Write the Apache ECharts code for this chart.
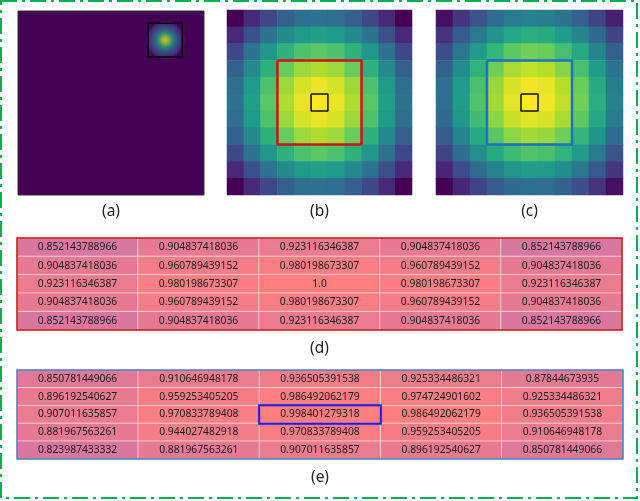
<!DOCTYPE html>
<html>
<head>
<meta charset="utf-8">
<script src="https://cdn.jsdelivr.net/npm/echarts@6/dist/echarts.min.js"></script>
<style>
html,body{margin:0;padding:0;background:#fff;}
#chart{width:640px;height:501px;}
</style>
</head>
<body>
<div id="chart"></div>
<script>
// ---------- data ----------
// (a) full image: 60x60 units, one gaussian blob and the 11x11 crop box
const imageSizeA = 60;
const blobCenterA = [47.5, 9.5];
const cropBoxA = [42, 4, 53, 15];

// (b) 11x11 patch (gaussian, centered)
const patchB = [
[0.368,0.440,0.507,0.560,0.595,0.607,0.595,0.560,0.507,0.440,0.368],
[0.440,0.527,0.607,0.670,0.712,0.726,0.712,0.670,0.607,0.527,0.440],
[0.507,0.607,0.698,0.771,0.819,0.835,0.819,0.771,0.698,0.607,0.507],
[0.560,0.670,0.771,0.852,0.905,0.923,0.905,0.852,0.771,0.670,0.560],
[0.595,0.712,0.819,0.905,0.961,0.980,0.961,0.905,0.819,0.712,0.595],
[0.607,0.726,0.835,0.923,0.980,1.000,0.980,0.923,0.835,0.726,0.607],
[0.595,0.712,0.819,0.905,0.961,0.980,0.961,0.905,0.819,0.712,0.595],
[0.560,0.670,0.771,0.852,0.905,0.923,0.905,0.852,0.771,0.670,0.560],
[0.507,0.607,0.698,0.771,0.819,0.835,0.819,0.771,0.698,0.607,0.507],
[0.440,0.527,0.607,0.670,0.712,0.726,0.712,0.670,0.607,0.527,0.440],
[0.368,0.440,0.507,0.560,0.595,0.607,0.595,0.560,0.507,0.440,0.368]
];
// (c) 11x11 patch (gaussian, slightly shifted)
const patchC = [
[0.367,0.443,0.514,0.573,0.613,0.630,0.623,0.591,0.539,0.473,0.398],
[0.436,0.526,0.610,0.680,0.728,0.749,0.740,0.702,0.640,0.561,0.473],
[0.498,0.601,0.697,0.776,0.831,0.854,0.844,0.801,0.731,0.640,0.539],
[0.546,0.659,0.764,0.851,0.911,0.937,0.925,0.878,0.801,0.702,0.591],
[0.575,0.694,0.804,0.896,0.959,0.986,0.975,0.925,0.844,0.740,0.623],
[0.582,0.702,0.814,0.907,0.971,0.998,0.986,0.937,0.854,0.749,0.630],
[0.566,0.683,0.792,0.882,0.944,0.971,0.959,0.911,0.831,0.728,0.613],
[0.529,0.638,0.740,0.824,0.882,0.907,0.896,0.851,0.776,0.680,0.573],
[0.475,0.573,0.664,0.740,0.792,0.814,0.804,0.764,0.697,0.610,0.514],
[0.409,0.494,0.573,0.638,0.683,0.702,0.694,0.659,0.601,0.526,0.443],
[0.339,0.409,0.475,0.529,0.566,0.582,0.575,0.546,0.498,0.436,0.367]
];
const patchCategories = ['0','1','2','3','4','5','6','7','8','9','10'];
const regionBoxB = [3, 3, 8, 8];
const centerBoxB = [5, 5, 6, 6];
const regionBoxC = [3, 3, 8, 8];
const centerBoxC = [5, 5, 6, 6];

// (d) table
const tableD = [
['0.852143788966','0.904837418036','0.923116346387','0.904837418036','0.852143788966'],
['0.904837418036','0.960789439152','0.980198673307','0.960789439152','0.904837418036'],
['0.923116346387','0.980198673307','1.0','0.980198673307','0.923116346387'],
['0.904837418036','0.960789439152','0.980198673307','0.960789439152','0.904837418036'],
['0.852143788966','0.904837418036','0.923116346387','0.904837418036','0.852143788966']
];
// (e) table
const tableE = [
['0.850781449066','0.910646948178','0.936505391538','0.925334486321','0.87844673935'],
['0.896192540627','0.959253405205','0.986492062179','0.974724901602','0.925334486321'],
['0.907011635857','0.970833789408','0.998401279318','0.986492062179','0.936505391538'],
['0.881967563261','0.944027482918','0.970833789408','0.959253405205','0.910646948178'],
['0.823987433332','0.881967563261','0.907011635857','0.896192540627','0.850781449066']
];
const tableCategories = ['0','1','2','3','4'];
const highlightCellE = [2, 2];
const panelLabels = ['(a)','(b)','(c)','(d)','(e)'];

// ---------- styles ----------
const viridis = ['#440154','#482878','#3e4989','#31688e','#26828e','#1f9e89','#35b779','#6ece58','#b5de2b','#fde725'];
const tableColors = ['#d8789c','#ff7f7f'];
const labelFont = 'Noto Sans';

function rectPath(b){ return [[b[0],b[1]],[b[2],b[1]],[b[2],b[3]],[b[0],b[3]],[b[0],b[1]]]; }
function matrixData(m){ const out=[]; m.forEach((row,i)=>row.forEach((v,j)=>out.push([j,i,v]))); return out; }
function tableData(t, hl){
  const out=[]; let last=null;
  t.forEach((row,i)=>row.forEach((s,j)=>{
    const item={value:[j,i,parseFloat(s)]};
    if(hl && hl[0]===i && hl[1]===j){ item.itemStyle={borderColor:'#1a1aff',borderWidth:2}; last=item; }
    else out.push(item);
  }));
  if(last) out.push(last);
  return out;
}
function mmin(m){ return Math.min(...m.flat()); }
function mmax(m){ return Math.max(...m.flat()); }
function tmin(t){ return Math.min(...t.flat().map(parseFloat)); }
function tmax(t){ return Math.max(...t.flat().map(parseFloat)); }

const nameStyle = {fontSize:15.5, color:'#222', fontFamily:labelFont};
function namedCatX(grid, cats, name, gap){
  return {type:'category', gridIndex:grid, data:cats, name:name, nameLocation:'middle', nameGap:gap,
    nameTextStyle:nameStyle, axisLine:{show:false}, axisTick:{show:false}, axisLabel:{show:false}, splitLine:{show:false}};
}
function hiddenCatY(grid, cats){ return {type:'category', gridIndex:grid, data:cats, inverse:true, show:false}; }
function hiddenVal(grid, max, inverse){ return {type:'value', gridIndex:grid, min:0, max:max, inverse:!!inverse, show:false}; }

const chart = echarts.init(document.getElementById('chart'), null, {renderer:'canvas'});
const option = {
  animation:false,
  backgroundColor:'#fff',
  grid:[
    {left:18, top:11, width:186, height:184, show:true, backgroundColor:'#440154', borderColor:'#333', borderWidth:1},
    {left:227, top:10, width:185, height:185},
    {left:436, top:10, width:187, height:185},
    {left:17, top:238, width:605, height:92, show:true, z:5, borderColor:'#c8141e', borderWidth:1.5, backgroundColor:'transparent'},
    {left:17, top:370, width:606, height:89, show:true, z:5, borderColor:'#4a80c0', borderWidth:1.5, backgroundColor:'transparent'}
  ],
  xAxis:[
    {type:'value', gridIndex:0, min:0, max:imageSizeA, name:panelLabels[0], nameLocation:'middle', nameGap:9,
      nameTextStyle:nameStyle, axisLine:{show:false}, axisTick:{show:false}, axisLabel:{show:false}, splitLine:{show:false}},
    namedCatX(1, patchCategories, panelLabels[1], 9),
    hiddenVal(1, patchCategories.length),
    namedCatX(2, patchCategories, panelLabels[2], 9),
    hiddenVal(2, patchCategories.length),
    namedCatX(3, tableCategories, panelLabels[3], 11),
    namedCatX(4, tableCategories, panelLabels[4], 11)
  ],
  yAxis:[
    hiddenVal(0, imageSizeA, true),
    hiddenCatY(1, patchCategories),
    hiddenVal(1, patchCategories.length, true),
    hiddenCatY(2, patchCategories),
    hiddenVal(2, patchCategories.length, true),
    hiddenCatY(3, tableCategories),
    hiddenCatY(4, tableCategories)
  ],
  visualMap:[
    {show:false, type:'continuous', seriesIndex:2, dimension:2, min:mmin(patchB), max:mmax(patchB), inRange:{color:viridis}},
    {show:false, type:'continuous', seriesIndex:5, dimension:2, min:mmin(patchC), max:mmax(patchC), inRange:{color:viridis}},
    {show:false, type:'continuous', seriesIndex:8, dimension:2, min:tmin(tableD), max:tmax(tableD), inRange:{color:tableColors}},
    {show:false, type:'continuous', seriesIndex:9, dimension:2, min:tmin(tableE), max:tmax(tableE), inRange:{color:tableColors}}
  ],
  series:[
    {type:'scatter', xAxisIndex:0, yAxisIndex:0, data:[blobCenterA], symbol:'circle', symbolSize:40, silent:true,
      itemStyle:{color:{type:'radial', x:0.5, y:0.5, r:0.5, colorStops:[
        {offset:0, color:'#fde725'},{offset:0.1, color:'#d8e219'},{offset:0.22, color:'#7ad151'},
        {offset:0.36, color:'#22a884'},{offset:0.52, color:'#2a788e'},{offset:0.68, color:'#3b528b'},
        {offset:0.84, color:'#46307e'},{offset:1, color:'#440154'}]}}},
    {type:'line', xAxisIndex:0, yAxisIndex:0, data:rectPath(cropBoxA), symbol:'none', silent:true, clip:false,
      lineStyle:{color:'#000', width:1.5}},
    {type:'heatmap', xAxisIndex:1, yAxisIndex:1, data:matrixData(patchB), silent:true, emphasis:{disabled:true}},
    {type:'line', xAxisIndex:2, yAxisIndex:2, data:rectPath(regionBoxB), symbol:'none', silent:true, clip:false,
      lineStyle:{color:'#d0121a', width:2.5}},
    {type:'line', xAxisIndex:2, yAxisIndex:2, data:rectPath(centerBoxB), symbol:'none', silent:true, clip:false,
      lineStyle:{color:'#111', width:1.5}},
    {type:'heatmap', xAxisIndex:3, yAxisIndex:3, data:matrixData(patchC), silent:true, emphasis:{disabled:true}},
    {type:'line', xAxisIndex:4, yAxisIndex:4, data:rectPath(regionBoxC), symbol:'none', silent:true, clip:false,
      lineStyle:{color:'#1f6fc4', width:2.5}},
    {type:'line', xAxisIndex:4, yAxisIndex:4, data:rectPath(centerBoxC), symbol:'none', silent:true, clip:false,
      lineStyle:{color:'#111', width:1.5}},
    {type:'heatmap', xAxisIndex:5, yAxisIndex:5, data:tableData(tableD, null), silent:true, emphasis:{disabled:true},
      itemStyle:{borderColor:'rgba(255,255,255,0.55)', borderWidth:1},
      label:{show:true, color:'#1a1a1a', fontSize:10.3, fontFamily:labelFont,
        formatter:p=>tableD[p.value[1]][p.value[0]]}},
    {type:'heatmap', xAxisIndex:6, yAxisIndex:6, data:tableData(tableE, highlightCellE), silent:true, emphasis:{disabled:true},
      itemStyle:{borderColor:'rgba(255,255,255,0.55)', borderWidth:1},
      label:{show:true, color:'#1a1a1a', fontSize:10.3, fontFamily:labelFont,
        formatter:p=>tableE[p.value[1]][p.value[0]]}}
  ],
  graphic:[
    {type:'rect', silent:true, z:100, shape:{x:1, y:1, width:636, height:497},
      style:{fill:'none', stroke:'#00b050', lineWidth:2, lineDash:[16,5,3,5]}}
  ]
};
chart.setOption(option);
</script>
</body>
</html>
